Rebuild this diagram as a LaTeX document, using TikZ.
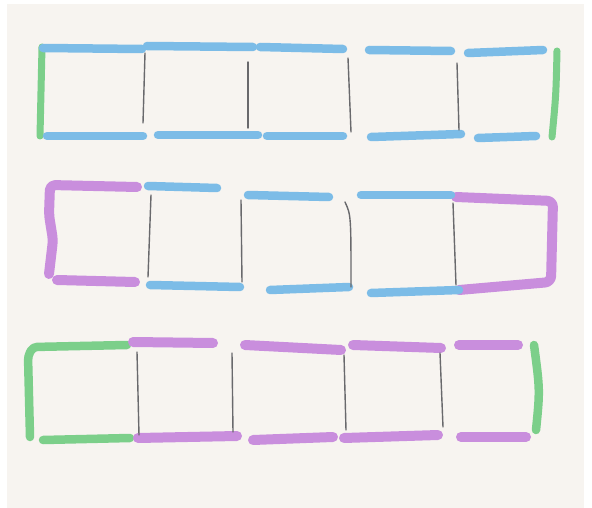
\documentclass[tikz,border=0pt]{standalone}
\usepackage{tikz}
\usetikzlibrary{positioning}

\definecolor{paper}{RGB}{247,244,240}
\definecolor{markblue}{RGB}{124,188,231}
\definecolor{markpink}{RGB}{201,142,221}
\definecolor{markgreen}{RGB}{124,207,138}
\definecolor{pencilgray}{RGB}{105,105,108}

\tikzset{
  bluemark/.style={markblue, line width=8.5pt, line cap=round, line join=round},
  pinkmark/.style={markpink, line width=10pt, line cap=round, line join=round},
  greenmark/.style={markgreen, line width=7pt, line cap=round, line join=round},
  pencil/.style={pencilgray, line width=1.4pt, line cap=round}
}

\begin{document}
\begin{tikzpicture}[x=1pt, y=-1pt]
  \useasboundingbox (0,0) rectangle (592,508);

  % Paper
  \fill[white] (0,0) rectangle (592,508);
  \fill[paper] (7,4) rectangle (584,508);

  % === Row 1: green ends, blue sides ===
  \draw[greenmark] (42,47) -- (40,136);
  \draw[greenmark] (557,51) .. controls (556,95) .. (552,137);
  \foreach \xa/\ya/\xb/\yb in {43/48/142/49, 147/46/253/47, 260/47/343/49,
                               369/50/451/51, 468/53/543/50,
                               47/136/143/136, 158/135/258/135, 267/136/343/136,
                               371/137/461/134, 478/138/536/136}{
    \draw[bluemark] (\xa,\ya) -- (\xb,\yb);
  }
  \foreach \xa/\ya/\xb/\yb in {145/53/143/123, 248/62/248/128,
                               348/58/351/132, 457/63/459/130}{
    \draw[pencil] (\xa,\ya) -- (\xb,\yb);
  }

  % === Row 2: pink ends, blue sides ===
  \draw[pinkmark, rounded corners=5pt]
       (137,187) -- (50,185) -- (49,215) -- (53,240) -- (49,274);
  \draw[pinkmark] (57,280) -- (135,282);
  \draw[pinkmark, rounded corners=6pt]
       (456,197) -- (553,201) -- (551,282) -- (459,290);
  \foreach \xa/\ya/\xb/\yb in {148/186/217/188, 248/195/329/197, 361/195/451/195,
                               150/285/240/287, 270/290/349/287, 371/293/459/290}{
    \draw[bluemark] (\xa,\ya) -- (\xb,\yb);
  }
  \foreach \xa/\ya/\xb/\yb in {151/195/148/277, 241/200/242/282, 453/203/456/285}{
    \draw[pencil] (\xa,\ya) -- (\xb,\yb);
  }
  \draw[pencil] (345,202) .. controls (351,215) .. (351,287);

  % === Row 3: green ends, pink sides ===
  \draw[greenmark, line width=8.5pt, rounded corners=4pt]
       (127,345) -- (33,347) -- (28,356) -- (30,437);
  \draw[greenmark, line width=8.5pt] (43,440) -- (130,438);
  \draw[greenmark, line width=8.5pt] (534,345) .. controls (540,390) .. (536,430);
  \foreach \xa/\ya/\xb/\yb in {133/342/213/343, 245/345/341/350,
                               353/345/441/348, 459/345/518/345,
                               138/438/237/436, 253/440/333/437,
                               344/438/438/435, 461/437/526/437}{
    \draw[pinkmark] (\xa,\ya) -- (\xb,\yb);
  }
  \foreach \xa/\ya/\xb/\yb in {137/352/139/435, 232/353/233/432,
                               344/355/346/430, 440/353/443/427}{
    \draw[pencil] (\xa,\ya) -- (\xb,\yb);
  }
\end{tikzpicture}
\end{document}
